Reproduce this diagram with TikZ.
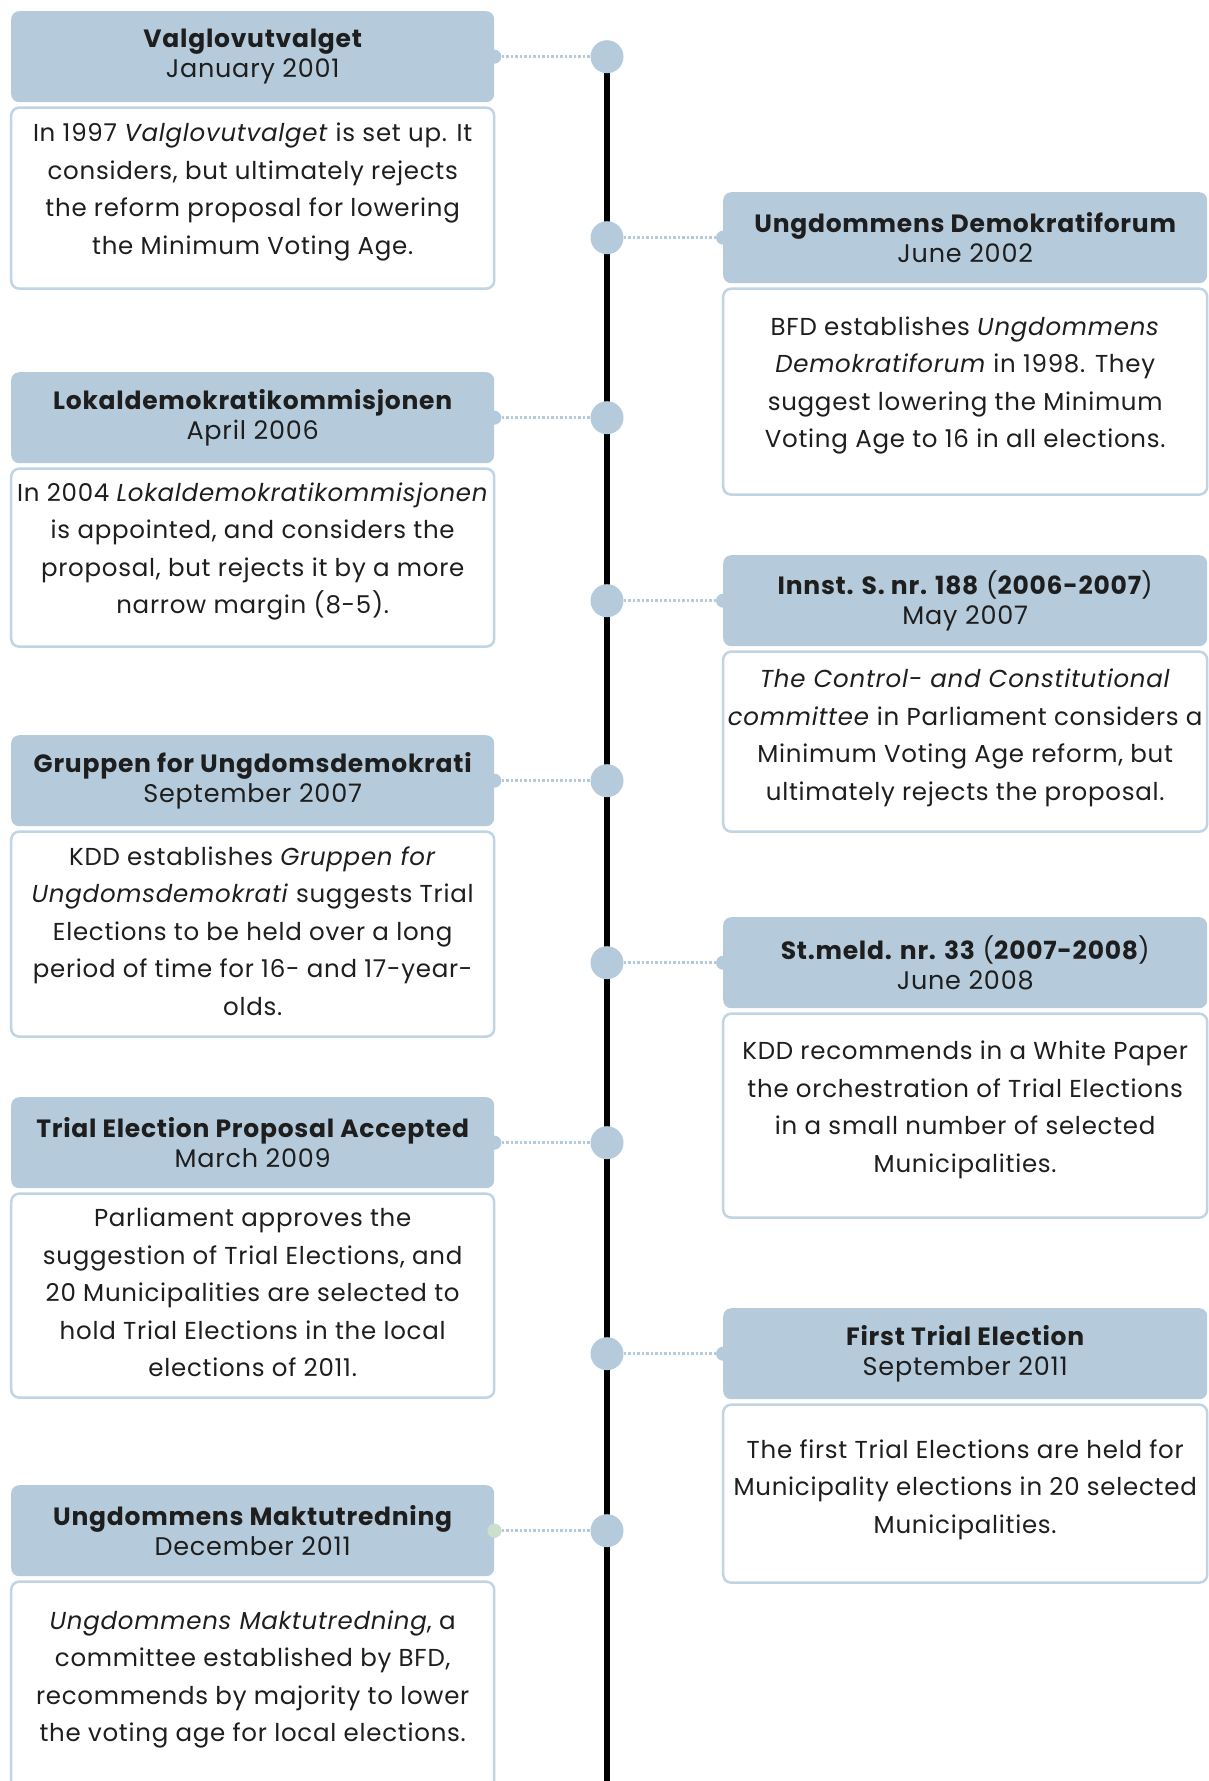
\documentclass[tikz,border=0pt]{standalone}
\usepackage{fontspec}
\setmainfont{Poppins}[LetterSpace=3]
\usetikzlibrary{positioning}
\definecolor{headblue}{RGB}{181,203,220}
\definecolor{lineblue}{RGB}{192,212,228}
\definecolor{tipgreen}{RGB}{204,222,204}
\definecolor{inkgray}{RGB}{30,30,30}
\newcommand{\evtitle}[1]{{\fontsize{25}{30}\selectfont\bfseries #1}}

\begin{document}
\begin{tikzpicture}[
            x=1pt, y=-1pt,
            node distance=4pt,
            headbox/.style={rectangle, rounded corners=8pt, fill=headblue, minimum height=91pt, inner sep=0pt, align=center, text=inkgray, font=\fontsize{25.5}{30}\selectfont},
            bodybox/.style={rectangle, rounded corners=8pt, draw=lineblue, line width=2.5pt, fill=white, inner sep=0pt},
            bodytext/.style={align=center, inner sep=0pt, text=inkgray, font=\fontsize{24.5}{37.5}\selectfont},
            leftcol/.style={minimum width=483pt},
            rightcol/.style={minimum width=484pt},
            bigdot/.style={circle, fill=headblue, minimum size=33pt, inner sep=0pt},
            tipdot/.style={circle, fill=headblue, minimum size=14pt, inner sep=0pt},
            link/.style={draw=headblue, line width=3.5pt, dash pattern=on 2.5pt off 2pt},
            timeline/.style={line width=6pt, black}
        ]
            \useasboundingbox (0,0) rectangle (1208,1781);
            % The vertical time axis
            \coordinate (tltop) at (607,56);
            \coordinate (tlend) at (607,1781);
            \draw[timeline] (tltop) -- (tlend);

            % Left column
            \node[headbox, leftcol, anchor=north west] (head1) at (11,11) {\evtitle{Valglovutvalget}\\January 2001};
            \node[bodybox, leftcol, minimum height=181pt, below=of head1] (body1) {};
            \node[bodytext] (text1) at ([yshift=6pt]body1.center) {In 1997 \textit{Valglovutvalget} is set up. It\\considers, but ultimately rejects\\the reform proposal for lowering\\the Minimum Voting Age.};

            \node[headbox, leftcol, anchor=north west] (head3) at (11,372) {\evtitle{Lokaldemokratikommisjonen}\\April 2006};
            \node[bodybox, leftcol, minimum height=178pt, below=of head3] (body3) {};
            \node[bodytext] (text3) at ([yshift=6pt]body3.center) {In 2004 \textit{Lokaldemokratikommisjonen}\\is appointed, and considers the\\proposal, but rejects it by a more\\narrow margin (8-5).};

            \node[headbox, leftcol, anchor=north west] (head5) at (11,735) {\evtitle{Gruppen for Ungdomsdemokrati}\\September 2007};
            \node[bodybox, leftcol, minimum height=205pt, below=of head5] (body5) {};
            \node[bodytext] (text5) at ([yshift=3pt]body5.center) {KDD establishes \textit{Gruppen for}\\\textit{Ungdomsdemokrati} suggests Trial\\Elections to be held over a long\\period of time for 16- and 17-year-\\olds.};

            \node[headbox, leftcol, anchor=north west] (head7) at (11,1097) {\evtitle{Trial Election Proposal Accepted}\\March 2009};
            \node[bodybox, leftcol, minimum height=204pt, below=of head7] (body7) {};
            \node[bodytext] (text7) at ([yshift=3pt]body7.center) {Parliament approves the\\suggestion of Trial Elections, and\\20 Municipalities are selected to\\hold Trial Elections in the local\\elections of 2011.};

            \node[headbox, leftcol, anchor=north west] (head9) at (11,1485) {\evtitle{Ungdommens Maktutredning}\\December 2011};
            \node[bodybox, leftcol, minimum height=240pt, below=of head9] (body9) {};
            \node[bodytext] (text9) at ([yshift=22pt]body9.center) {\textit{Ungdommens Maktutredning}, a\\committee established by BFD,\\recommends by majority to lower\\the voting age for local elections.};

            % Right column
            \node[headbox, rightcol, anchor=north west] (head2) at (723,192) {\evtitle{Ungdommens Demokratiforum}\\June 2002};
            \node[bodybox, rightcol, minimum height=206pt, below=of head2] (body2) {};
            \node[bodytext] (text2) at ([yshift=6pt]body2.center) {BFD establishes \textit{Ungdommens}\\\textit{Demokratiforum} in 1998. They\\suggest lowering the Minimum\\Voting Age to 16 in all elections.};

            \node[headbox, rightcol, anchor=north west] (head4) at (723,555) {\evtitle{Innst. S. nr. 188} (\evtitle{2006-2007})\\May 2007};
            \node[bodybox, rightcol, minimum height=180pt, below=of head4] (body4) {};
            \node[bodytext] (text4) at ([yshift=4pt]body4.center) {\textit{The Control- and Constitutional}\\\textit{committee} in Parliament considers a\\Minimum Voting Age reform, but\\ultimately rejects the proposal.};

            \node[headbox, rightcol, anchor=north west] (head6) at (723,917) {\evtitle{St.meld. nr. 33} (\evtitle{2007-2008})\\June 2008};
            \node[bodybox, rightcol, minimum height=204pt, below=of head6] (body6) {};
            \node[bodytext] (text6) at ([yshift=6pt]body6.center) {KDD recommends in a White Paper\\the orchestration of Trial Elections\\in a small number of selected\\Municipalities.};

            \node[headbox, rightcol, anchor=north west] (head8) at (723,1308) {\evtitle{First Trial Election}\\September 2011};
            \node[bodybox, rightcol, minimum height=178pt, below=of head8] (body8) {};
            \node[bodytext] (text8) at ([yshift=4pt]body8.center) {The first Trial Elections are held for\\Municipality elections in 20 selected\\Municipalities.};

            % Dots on the axis and dotted links
            \foreach \i in {1,3,5,7,9} {
                \node[bigdot] (dot\i) at (head\i -| tltop) {};
                \node[tipdot] (tip\i) at (head\i.east) {};
                \draw[link] (tip\i) -- (dot\i);
            }
            \foreach \i in {2,4,6,8} {
                \node[bigdot] (dot\i) at (head\i -| tltop) {};
                \node[tipdot] (tip\i) at (head\i.west) {};
                \draw[link] (dot\i) -- (tip\i);
            }
            \node[tipdot, fill=tipgreen] at (tip9) {};
\end{tikzpicture}
\end{document}
